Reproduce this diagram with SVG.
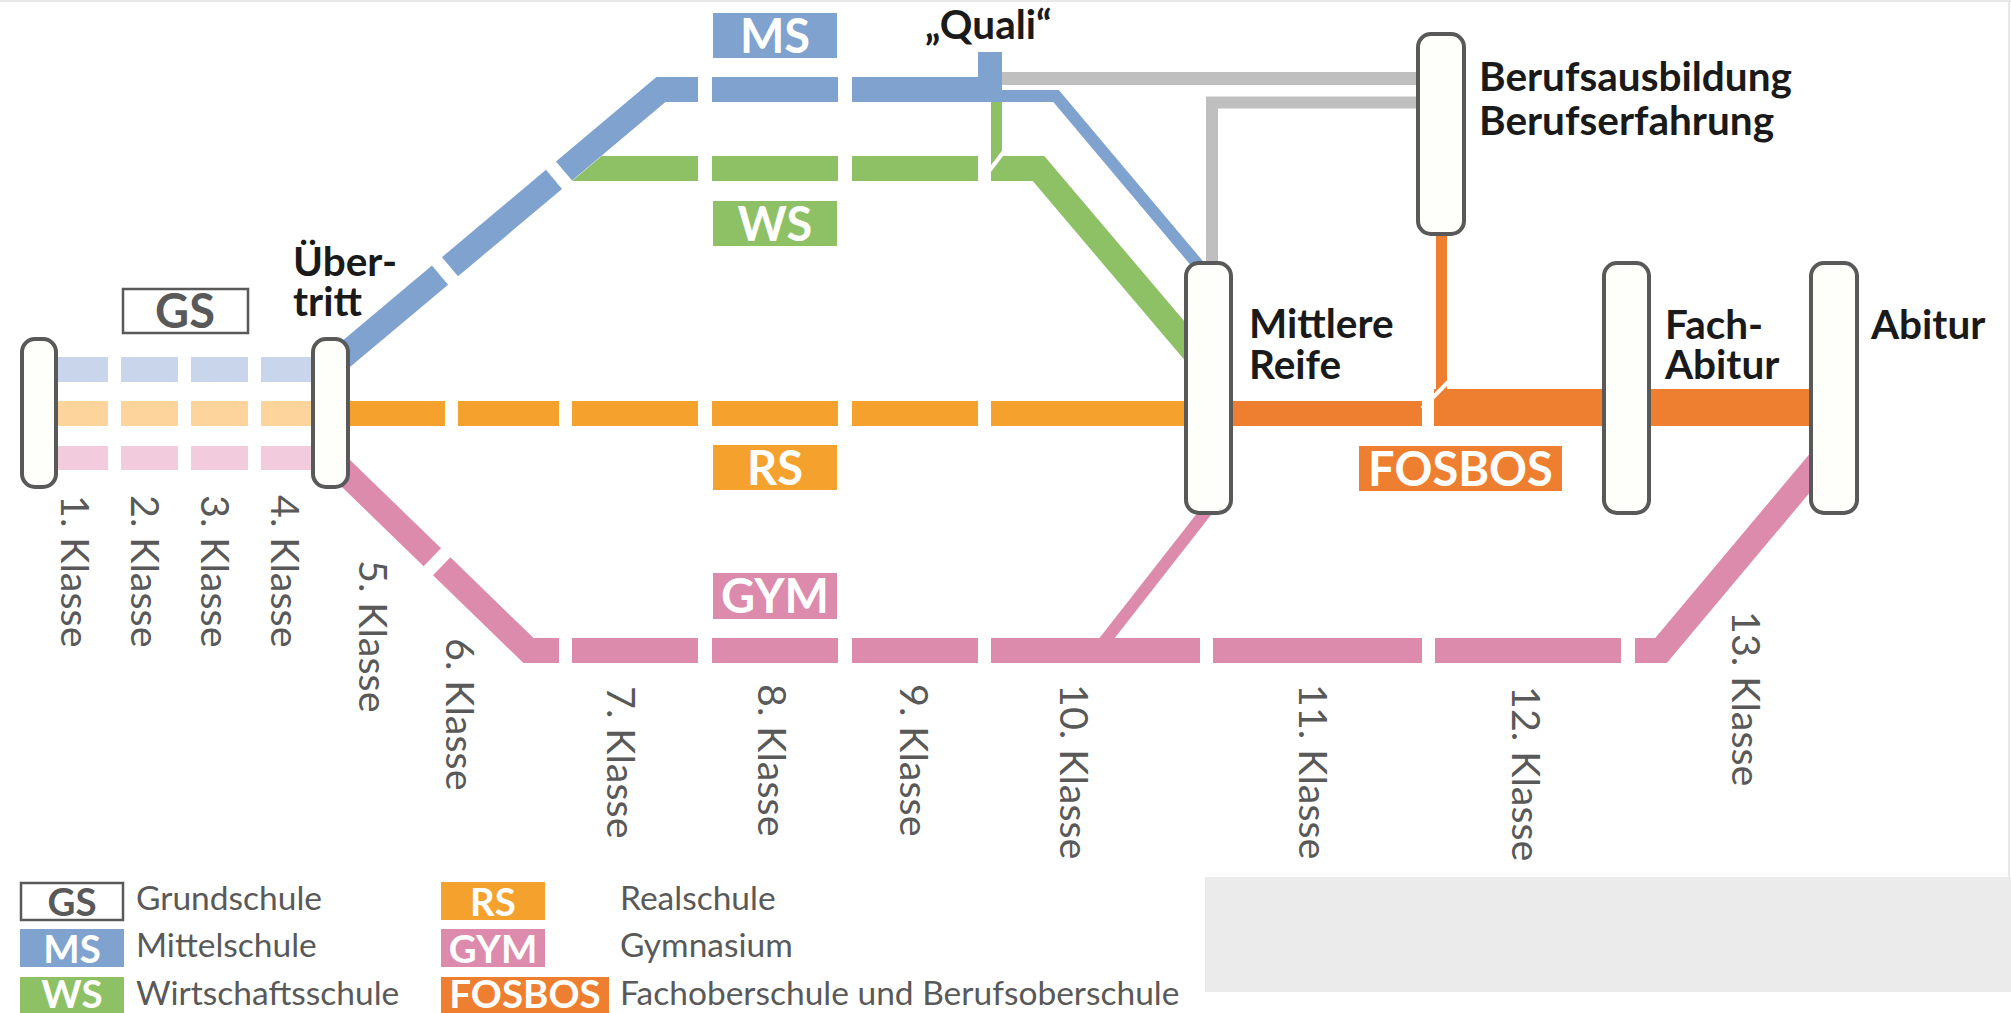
<svg xmlns="http://www.w3.org/2000/svg" width="2011" height="1013" viewBox="0 0 2011 1013">
<style>
.bl{stroke:#7FA3CE;fill:none}
.gr{stroke:#8EC165;fill:none}
.or{stroke:#F4A12D;fill:none}
.pk{stroke:#DC8BAC;fill:none}
.gy{stroke:#BFBFBF;fill:none}
.w25{stroke-width:25;stroke-linejoin:miter;stroke-linecap:butt}
.node{fill:#FEFEFB;stroke:#595959;stroke-width:4}
.lbl{font-family:Lato,"Liberation Sans",sans-serif;font-weight:bold;font-size:40.5px;fill:#1a1a1a}
.kl{font-family:Lato,"Liberation Sans",sans-serif;font-size:39.5px;fill:#595959}
.ab{font-family:Lato,"Liberation Sans",sans-serif;font-weight:bold;font-size:47px;fill:#fff;text-anchor:middle}
.lab{font-family:Lato,"Liberation Sans",sans-serif;font-weight:bold;font-size:38.5px;fill:#fff;text-anchor:middle}
.leg{font-family:Lato,"Liberation Sans",sans-serif;font-size:33.5px;fill:#595959}
</style>
<rect x="0" y="0" width="2011" height="1013" fill="#fff"/>
<line x1="0" y1="1" x2="2011" y2="1" stroke="#E8E8E8" stroke-width="2"/>
<line x1="2009" y1="0" x2="2009" y2="877" stroke="#E8E8E8" stroke-width="2"/>
<rect x="1205" y="877" width="806" height="115" fill="#EBEBEB"/>

<g id="connectors">
  <g fill="#C9D5EA">
    <rect x="56" y="357" width="52" height="25"/><rect x="121" y="357" width="57" height="25"/><rect x="191" y="357" width="57" height="25"/><rect x="261" y="357" width="52" height="25"/>
  </g>
  <g fill="#FDD49C">
    <rect x="56" y="401" width="52" height="25"/><rect x="121" y="401" width="57" height="25"/><rect x="191" y="401" width="57" height="25"/><rect x="261" y="401" width="52" height="25"/>
  </g>
  <g fill="#F2CCDC">
    <rect x="56" y="446" width="52" height="24"/><rect x="121" y="446" width="57" height="24"/><rect x="191" y="446" width="57" height="24"/><rect x="261" y="446" width="52" height="24"/>
  </g>
  <path class="gy" d="M995 78.5 H1430" stroke-width="13"/>
  <path class="gy" d="M1212 275 V102.5 H1430" stroke-width="12" stroke-linejoin="miter"/>
  <g fill="#8EC165">
    <polygon points="572,181 601.7,156 698,156 698,181"/>
    <rect x="712" y="156" width="126" height="25"/>
    <rect x="852" y="156" width="126" height="25"/>
    <rect x="991" y="100" width="11" height="70"/>
  </g>
  <path class="gr w25" d="M991 168.5 H1038.5 L1200 359"/>
  <line x1="988" y1="172.5" x2="1016" y2="135.5" stroke="#fff" stroke-width="4"/>
  <path class="bl w25" d="M330 367.5 L440 275.1"/>
  <path class="bl w25" d="M450 266.7 L554 179.4"/>
  <path class="bl w25" d="M564 171 L661 89.5 H698"/>
  <path class="bl w25" d="M712 89.5 H838"/>
  <path class="bl w25" d="M852 89.5 H1002"/>
  <rect x="978" y="52" width="24" height="40" fill="#7FA3CE"/>
  <path class="bl" d="M995 96 H1056 L1203 270.5" stroke-width="12" stroke-linejoin="miter"/>
  <g fill="#F4A12D">
    <rect x="340" y="401" width="105" height="25"/><rect x="458" y="401" width="101" height="25"/><rect x="572" y="401" width="126" height="25"/><rect x="712" y="401" width="126" height="25"/><rect x="852" y="401" width="126" height="25"/><rect x="991" y="401" width="200" height="25"/>
  </g>
  <g fill="#EE7F30">
    <rect x="1225" y="401" width="197" height="25"/>
    <rect x="1434" y="389" width="380" height="37"/>
    <rect x="1436" y="230" width="11" height="170"/>
  </g>
  <line x1="1422" y1="408.5" x2="1462" y2="368" stroke="#fff" stroke-width="4"/>
  <path class="pk w25" d="M330 458 L432.3 557.2"/>
  <path class="pk w25" d="M441.7 566.3 L528.5 650.5 H559"/>
  <g fill="#DC8BAC">
    <rect x="572" y="638" width="126" height="25"/><rect x="712" y="638" width="126" height="25"/><rect x="852" y="638" width="126" height="25"/><rect x="991" y="638" width="209" height="25"/><rect x="1213" y="638" width="209" height="25"/><rect x="1435" y="638" width="186" height="25"/>
  </g>
  <path class="pk w25" d="M1635 650.5 H1661 L1830 449"/>
  <path class="pk" d="M1104 642 L1208 509" stroke-width="12"/>
</g>

<g id="node-start"><rect class="node" x="22" y="339" width="34" height="148" rx="13"/></g>
<g id="node-uebertritt"><rect class="node" x="313" y="339" width="35" height="148" rx="13"/>
  <text class="lbl" x="293" y="276">Über-</text><text class="lbl" x="293" y="316">tritt</text></g>
<g id="node-mittlere-reife"><rect class="node" x="1186" y="263" width="45" height="250" rx="13"/>
  <text class="lbl" x="1249" y="338">Mittlere</text><text class="lbl" x="1249" y="379">Reife</text></g>
<g id="node-fachabitur"><rect class="node" x="1604" y="263" width="45" height="250" rx="13"/>
  <text class="lbl" x="1665" y="339">Fach-</text><text class="lbl" x="1665" y="379">Abitur</text></g>
<g id="node-abitur"><rect class="node" x="1811" y="263" width="46" height="250" rx="13"/>
  <text class="lbl" x="1871" y="339">Abitur</text></g>
<g id="node-beruf"><rect class="node" x="1418" y="34" width="46" height="200" rx="13"/>
  <text class="lbl" x="1479" y="91">Berufsausbildung</text><text class="lbl" x="1479" y="135">Berufserfahrung</text></g>
<g id="quali"><text class="lbl" x="925" y="39">„Quali“</text></g>

<g id="labels">
  <rect x="123" y="289" width="125" height="44" fill="#fff" stroke="#595959" stroke-width="2.5"/>
  <text class="ab" x="185" y="328" style="fill:#595959">GS</text>
  <rect x="713" y="13" width="124" height="45" fill="#7FA3CE"/><text class="ab" x="775" y="53">MS</text>
  <rect x="713" y="201" width="124" height="45" fill="#8EC165"/><text class="ab" x="775" y="241">WS</text>
  <rect x="713" y="445" width="124" height="45" fill="#F4A12D"/><text class="ab" x="775" y="485">RS</text>
  <rect x="713" y="573" width="124" height="46" fill="#DC8BAC"/><text class="ab" x="775" y="613">GYM</text>
  <rect x="1359" y="446" width="203" height="45" fill="#EE7F30"/><text class="ab" x="1460.5" y="486">FOSBOS</text>
</g>

<g id="klassen">
  <text class="kl" transform="translate(61,495) rotate(90)">1. Klasse</text>
  <text class="kl" transform="translate(131,495) rotate(90)">2. Klasse</text>
  <text class="kl" transform="translate(201,495) rotate(90)">3. Klasse</text>
  <text class="kl" transform="translate(271,495) rotate(90)">4. Klasse</text>
  <text class="kl" transform="translate(359,560) rotate(90)">5. Klasse</text>
  <text class="kl" transform="translate(446,638) rotate(90)">6. Klasse</text>
  <text class="kl" transform="translate(607,686) rotate(90)">7. Klasse</text>
  <text class="kl" transform="translate(758,684) rotate(90)">8. Klasse</text>
  <text class="kl" transform="translate(900,684) rotate(90)">9. Klasse</text>
  <text class="kl" transform="translate(1060,684) rotate(90)">10. Klasse</text>
  <text class="kl" transform="translate(1299,684) rotate(90)">11. Klasse</text>
  <text class="kl" transform="translate(1512,686) rotate(90)">12. Klasse</text>
  <text class="kl" transform="translate(1732,611) rotate(90)">13. Klasse</text>
</g>

<g id="legend">
  <rect x="21" y="883" width="102" height="37" fill="#fff" stroke="#595959" stroke-width="2.5"/><text class="lab" x="72" y="916" style="fill:#595959">GS</text>
  <rect x="20" y="929" width="104" height="38" fill="#7FA3CE"/><text class="lab" x="72" y="963">MS</text>
  <rect x="20" y="977" width="104" height="36" fill="#8EC165"/><text class="lab" x="72" y="1008">WS</text>
  <rect x="441" y="882" width="104" height="38" fill="#F4A12D"/><text class="lab" x="493" y="916">RS</text>
  <rect x="441" y="929" width="104" height="38" fill="#DC8BAC"/><text class="lab" x="493" y="963">GYM</text>
  <rect x="441" y="977" width="168" height="36" fill="#EE7F30"/><text class="lab" x="525" y="1008">FOSBOS</text>
  <text class="leg" x="136" y="910">Grundschule</text>
  <text class="leg" x="136" y="957">Mittelschule</text>
  <text class="leg" x="136" y="1005">Wirtschaftsschule</text>
  <text class="leg" x="620" y="910">Realschule</text>
  <text class="leg" x="620" y="957">Gymnasium</text>
  <text class="leg" x="620" y="1005">Fachoberschule und Berufsoberschule</text>
</g>
</svg>
